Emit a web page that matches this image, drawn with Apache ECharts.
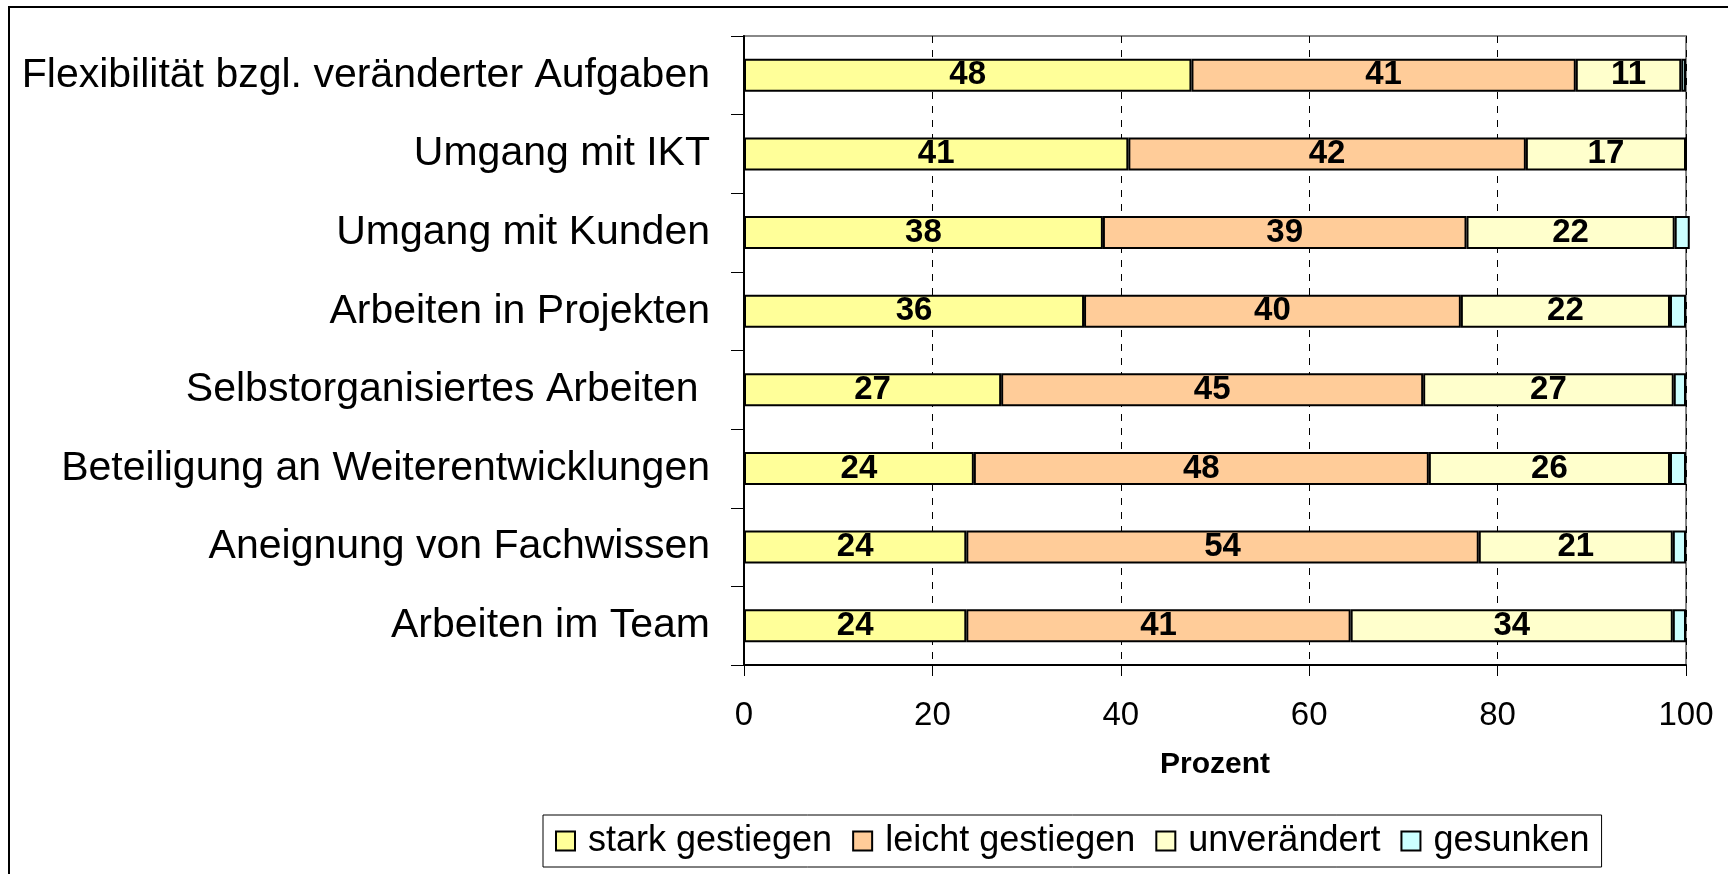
<!DOCTYPE html>
<html>
<head>
<meta charset="utf-8">
<script src="https://cdn.jsdelivr.net/npm/echarts@6/dist/echarts.min.js"></script>
<style>
  html, body { margin: 0; padding: 0; background: #fff; }
  #chart { width: 1728px; height: 874px; }
</style>
</head>
<body>
<div id="chart"></div>
<script>
// Kategorien von oben nach unten
const categories = [
  "Flexibilität bzgl. veränderter Aufgaben",
  "Umgang mit IKT",
  "Umgang mit Kunden",
  "Arbeiten in Projekten",
  "Selbstorganisiertes Arbeiten ",
  "Beteiligung an Weiterentwicklungen",
  "Aneignung von Fachwissen",
  "Arbeiten im Team"
];
const seriesNames = ["stark gestiegen", "leicht gestiegen", "unverändert", "gesunken"];

// Werte in Prozent
const starkGestiegen = [47.5, 40.8, 38.1, 36.1, 27.3, 24.4, 23.6, 23.6];
const leichtGestiegen = [40.8, 42.2, 38.6, 40.0, 44.8, 48.3, 54.4, 40.8];
const unveraendert = [11.2, 17.0, 22.1, 22.2, 26.6, 25.6, 20.6, 34.2];
const gesunken = [0.5, 0, 1.6, 1.7, 1.3, 1.7, 1.4, 1.4];

const xTicks = [0, 20, 40, 60, 80, 100];

const colors = ["#FFFF99", "#FFCC99", "#FFFFCC", "#CCFFFF"];
const FONT = "'Liberation Sans', Arial, sans-serif";

const chart = echarts.init(document.getElementById("chart"));

const makeSeries = (name, values, idx, showLabel) => ({
  name: name,
  type: "bar",
  stack: "total",
  barWidth: 33,
  clip: false,
  data: values,
  itemStyle: { color: colors[idx], borderColor: "#000", borderWidth: 2 },
  label: {
    show: showLabel,
    position: "inside",
    color: "#000",
    fontFamily: FONT,
    fontWeight: "bold",
    fontSize: 33,
    padding: [4, 0, 0, 0],
    formatter: (p) => Math.round(p.value)
  },
  emphasis: { disabled: true }
});

const option = {
  animation: false,
  backgroundColor: "#fff",
  textStyle: { fontFamily: FONT },
  grid: {
    left: 744,
    right: 42,
    top: 36,
    bottom: 209,
    show: true,
    borderColor: "#888",
    borderWidth: 2
  },
  xAxis: {
    type: "value",
    min: xTicks[0],
    max: xTicks[xTicks.length - 1],
    interval: 20,
    name: "Prozent",
    nameLocation: "middle",
    nameGap: 85,
    nameTextStyle: { fontFamily: FONT, fontWeight: "bold", fontSize: 30, color: "#000" },
    axisLine: { show: true, lineStyle: { color: "#000", width: 2 } },
    axisTick: { show: true, length: 11, lineStyle: { color: "#000", width: 1 } },
    axisLabel: { margin: 34, fontFamily: FONT, fontSize: 33, color: "#000" },
    splitLine: { show: true, lineStyle: { color: "#000", width: 1, type: [7, 7] } }
  },
  yAxis: {
    type: "category",
    inverse: true,
    data: categories,
    axisLine: { show: true, lineStyle: { color: "#000", width: 2 } },
    axisTick: { show: true, length: 13, lineStyle: { color: "#000", width: 1 } },
    axisLabel: { margin: 34, fontFamily: FONT, fontSize: 41, color: "#000", padding: [10, 0, 0, 0] },
    splitLine: { show: false }
  },
  legend: {
    data: seriesNames,
    left: 543,
    top: 815,
    orient: "horizontal",
    itemWidth: 19,
    itemHeight: 19,
    itemGap: 20,
    padding: [8, 12, 8, 12],
    borderColor: "#000",
    borderWidth: 1,
    icon: "rect",
    textStyle: { fontFamily: FONT, fontSize: 36, color: "#000", padding: [0, 0, 0, 8] },
    selectedMode: false
  },
  graphic: [
    {
      type: "rect",
      shape: { x: 9, y: 7, width: 1800, height: 900 },
      style: { fill: "none", stroke: "#000", lineWidth: 2 },
      silent: true
    }
  ],
  series: [
    makeSeries(seriesNames[0], starkGestiegen, 0, true),
    makeSeries(seriesNames[1], leichtGestiegen, 1, true),
    makeSeries(seriesNames[2], unveraendert, 2, true),
    makeSeries(seriesNames[3], gesunken, 3, false)
  ]
};

chart.setOption(option);
</script>
</body>
</html>
